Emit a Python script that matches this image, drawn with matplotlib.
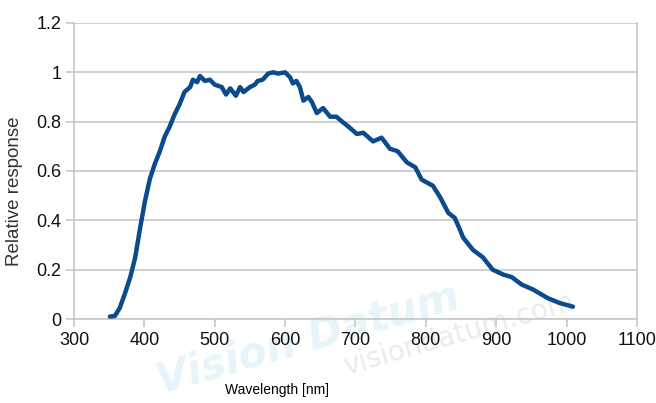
import matplotlib
matplotlib.use("Agg")
import matplotlib.pyplot as plt

wavelength = [351, 358, 365, 372, 380, 387, 394, 401, 408, 415, 422, 429, 436, 443,
              450, 457, 465, 469, 475, 479, 486, 493, 500, 510, 516, 522, 530, 536,
              541, 550, 557, 561, 568, 576, 583, 590, 600, 607, 611, 616, 621, 626,
              633, 638, 645, 654, 664, 673, 681, 690, 702, 711, 725, 737, 749, 760,
              773, 785, 794, 810, 820, 832, 841, 848, 853, 867, 881, 895, 910, 922,
              936, 952, 973, 990, 1009]
response = [0.01, 0.012, 0.045, 0.10, 0.17, 0.25, 0.37, 0.48, 0.57, 0.63, 0.68, 0.74, 0.78, 0.83,
            0.87, 0.92, 0.94, 0.97, 0.96, 0.985, 0.965, 0.97, 0.95, 0.94, 0.91, 0.935, 0.905, 0.94,
            0.92, 0.94, 0.95, 0.965, 0.97, 0.995, 1.0, 0.995, 1.0, 0.98, 0.955, 0.965, 0.94, 0.885,
            0.90, 0.88, 0.835, 0.855, 0.82, 0.82, 0.80, 0.78, 0.75, 0.755, 0.72, 0.735, 0.69, 0.68,
            0.635, 0.615, 0.565, 0.54, 0.495, 0.43, 0.41, 0.365, 0.33, 0.28, 0.25, 0.20, 0.18, 0.17,
            0.14, 0.12, 0.085, 0.065, 0.05]

xticks = [300, 400, 500, 600, 700, 800, 900, 1000, 1100]
yticks = [0, 0.2, 0.4, 0.6, 0.8, 1, 1.2]
yticklabels = ["0", "0.2", "0.4", "0.6", "0.8", "1", "1.2"]

fig = plt.figure(figsize=(6.56, 4.03), dpi=100)
ax = fig.add_axes([0.1128, 0.2084, 0.8582, 0.7346])
ax.set_zorder(1)
ax.set_facecolor("none")

# faint watermark, behind the axes
fig.text(0.47, 0.16, "Vision Datum", fontsize=30, fontweight="bold", fontstyle="italic",
         color="#e8f4fb", rotation=16, ha="center", va="center", zorder=-1)
fig.text(0.70, 0.17, "visiondatum.com", fontsize=20, color="#ebebeb",
         rotation=16, ha="center", va="center", zorder=-1)

grid_c = "#c8c8c8"
for y in yticks:
    ax.axhline(y, color=grid_c, lw=1.2, zorder=1)

ax.plot(wavelength, response, color="#0b4a8b", lw=3.2, zorder=3,
        solid_joinstyle="round", solid_capstyle="round")

ax.set_xlim(300, 1100)
ax.set_ylim(0, 1.2)
ax.set_xticks(xticks)
ax.set_yticks(yticks)
ax.set_yticklabels(yticklabels)
for lab in ax.get_xticklabels() + ax.get_yticklabels():
    lab.set_fontfamily("Liberation Sans")
    lab.set_fontsize(13)
    lab.set_color("#111111")
ax.tick_params(axis="both", direction="out", length=6, width=1.2, color=grid_c, pad=3)

for side in ["left", "right", "bottom"]:
    ax.spines[side].set_color(grid_c)
    ax.spines[side].set_linewidth(1.2)
ax.spines["top"].set_visible(False)

ax.set_xlabel("Wavelength [nm]", fontfamily="Liberation Sans", fontsize=10)
ax.xaxis.set_label_coords(0.36, -0.215)
ax.set_ylabel("Relative response", fontfamily="Liberation Sans", fontsize=13.5,
              color="#333333")
ax.yaxis.set_label_coords(-0.09, 0.43)

fig.savefig("out.png", dpi=100)
